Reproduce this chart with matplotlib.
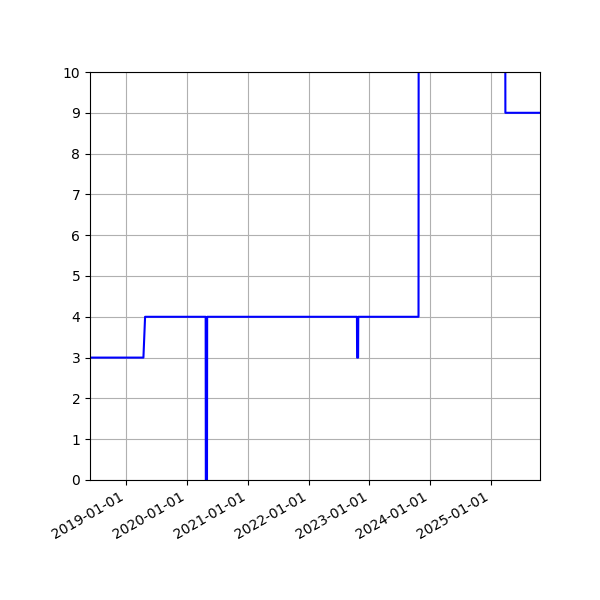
import matplotlib
matplotlib.use("Agg")
import matplotlib.pyplot as plt
import matplotlib.dates as mdates
import pandas as pd

# change points of the series (date, value); short dips last about a week
dates = [
    "2018-05-28", "2019-04-14", "2019-04-24",
    "2020-04-22", "2020-04-23", "2020-04-30", "2020-05-01",
    "2022-10-18", "2022-10-19", "2022-10-25", "2022-10-26",
    "2023-10-23", "2023-10-24",
    "2025-03-27", "2025-03-28", "2025-10-22",
]
values = [
    3, 3, 4,
    4, 0, 0, 4,
    4, 3, 3, 4,
    4, 12,
    12, 9, 9,
]

x = pd.to_datetime(dates)

fig, ax = plt.subplots(figsize=(6, 6), dpi=100)
ax.plot(x, values, color="blue", linewidth=1.5)

ax.set_xlim(x[0], x[-1])
ax.set_ylim(0, 10)
ax.set_yticks(range(0, 11))
ax.xaxis.set_major_locator(mdates.YearLocator())
ax.xaxis.set_major_formatter(mdates.DateFormatter("%Y-%m-%d"))
ax.grid(True)

fig.autofmt_xdate()
fig.subplots_adjust(left=0.15, right=0.9, top=0.88, bottom=0.2)

plt.savefig("out.png", dpi=100)
